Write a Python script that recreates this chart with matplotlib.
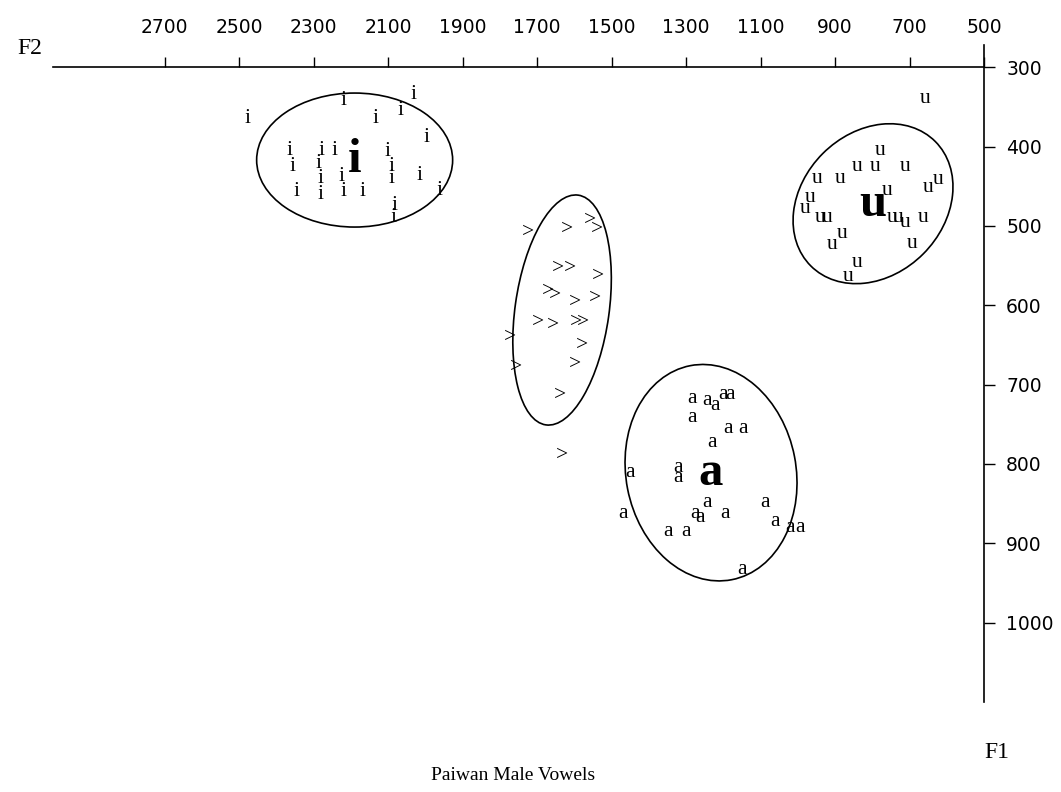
import numpy as np
import matplotlib.pyplot as plt
from matplotlib.patches import Ellipse
from matplotlib.transforms import ScaledTranslation

# formant values (Hz) of each token
i_f2 = [2479, 2219, 2033, 2068, 2133, 1998, 2364, 2278, 2243, 2103, 2358, 2288,
        2090, 2017, 2224, 2283, 2345, 2283, 2219, 2170, 2090, 1961, 2084, 2087]
i_f1 = [364, 342, 335, 354, 364, 388, 405, 405, 405, 406, 425, 421,
        425, 436, 438, 440, 457, 461, 456, 457, 440, 455, 474, 489]

u_f2 = [659, 780, 841, 793, 712, 949, 887, 651, 624, 967, 761, 981,
        941, 922, 747, 731, 712, 664, 882, 908, 694, 841, 865]
u_f1 = [339, 405, 425, 425, 425, 440, 440, 452, 442, 464, 455, 478,
        490, 490, 489, 490, 496, 490, 509, 524, 522, 546, 564]

e_f2 = [1725, 1620, 1558, 1539, 1644, 1612, 1537, 1652, 1598, 1545, 1671,
        1698, 1657, 1596, 1577, 1773, 1580, 1598, 1757, 1639, 1633]
e_f1 = [508, 505, 493, 505, 553, 554, 564, 587, 597, 591, 583,
        621, 626, 622, 621, 640, 650, 675, 678, 713, 789]

a_f2 = [1284, 1244, 1223, 1201, 1182, 1284, 1188, 1147, 1231, 1322, 1322, 1451,
        1470, 1244, 1276, 1263, 1196, 1088, 1349, 1300, 1061, 1021, 994, 1150]
a_f1 = [717, 720, 726, 713, 713, 741, 755, 755, 773, 805, 817, 811,
        862, 849, 862, 867, 862, 849, 885, 885, 873, 880, 880, 933]

# vowel means
vowels = ["i", "u", ">", "a"]
mean_f2 = [2190, 798, 1633, 1233]
mean_f1 = [417, 472, 606, 811]
show_mean = [True, True, False, True]

x_ticks = list(range(2700, 499, -200))
y_ticks = list(range(300, 1001, 100))

# ellipse shape in screen pixels: half axes and angle
ell_shape = [(98, 67, 0), (88, 71, 45), (116, 47, 82), (109, 85, 101)]

fig = plt.figure(figsize=(10.61, 7.92), dpi=100)
ax = fig.add_axes([53 / 1061, 1 - 702 / 792, 931 / 1061, 657 / 792])
ax.set_xlim(3000, 500)
ax.set_ylim(1100, 272)

serif = "Liberation Serif"
tokens = [("i", i_f2, i_f1), ("u", u_f2, u_f1), (">", e_f2, e_f1), ("a", a_f2, a_f1)]
for sym, xs, ys in tokens:
    for x, y in zip(xs, ys):
        ax.text(x, y, sym, family=serif, fontsize=15.5, ha="center", va="center")

for k, v in enumerate(vowels):
    if show_mean[k]:
        ax.text(mean_f2[k], mean_f1[k], v, family=serif, fontsize=35,
                fontweight="bold", ha="center", va="center")
    a, b, ang = ell_shape[k]
    tr = fig.dpi_scale_trans + ScaledTranslation(mean_f2[k], mean_f1[k], ax.transData)
    ax.add_patch(Ellipse((0, 0), 2 * a / 100, 2 * b / 100, angle=ang,
                         fill=False, lw=1.2, color="black", transform=tr))

# axes drawn as a cross at F1=300 / F2=500
for s in ["left", "bottom"]:
    ax.spines[s].set_visible(False)
ax.spines["top"].set_position(("data", 300))
ax.spines["top"].set_linewidth(1.2)
ax.spines["right"].set_linewidth(1.2)
ax.xaxis.tick_top()
ax.yaxis.tick_right()
ax.set_xticks(x_ticks)
ax.set_yticks(y_ticks)
ax.tick_params(axis="x", direction="out", length=7, width=1, pad=15, labelsize=13.5)
ax.tick_params(axis="y", direction="out", length=8, width=1, pad=8, labelsize=13.5)

fig.text(30 / 1061, 1 - 48 / 792, "F2", family=serif, fontsize=17, ha="center", va="center")
fig.text(997 / 1061, 1 - 752 / 792, "F1", family=serif, fontsize=17, ha="center", va="center")
fig.text(513 / 1061, 1 - 775 / 792, "Paiwan Male Vowels", family=serif, fontsize=14,
         ha="center", va="center")

fig.savefig("out.png", dpi=100)
